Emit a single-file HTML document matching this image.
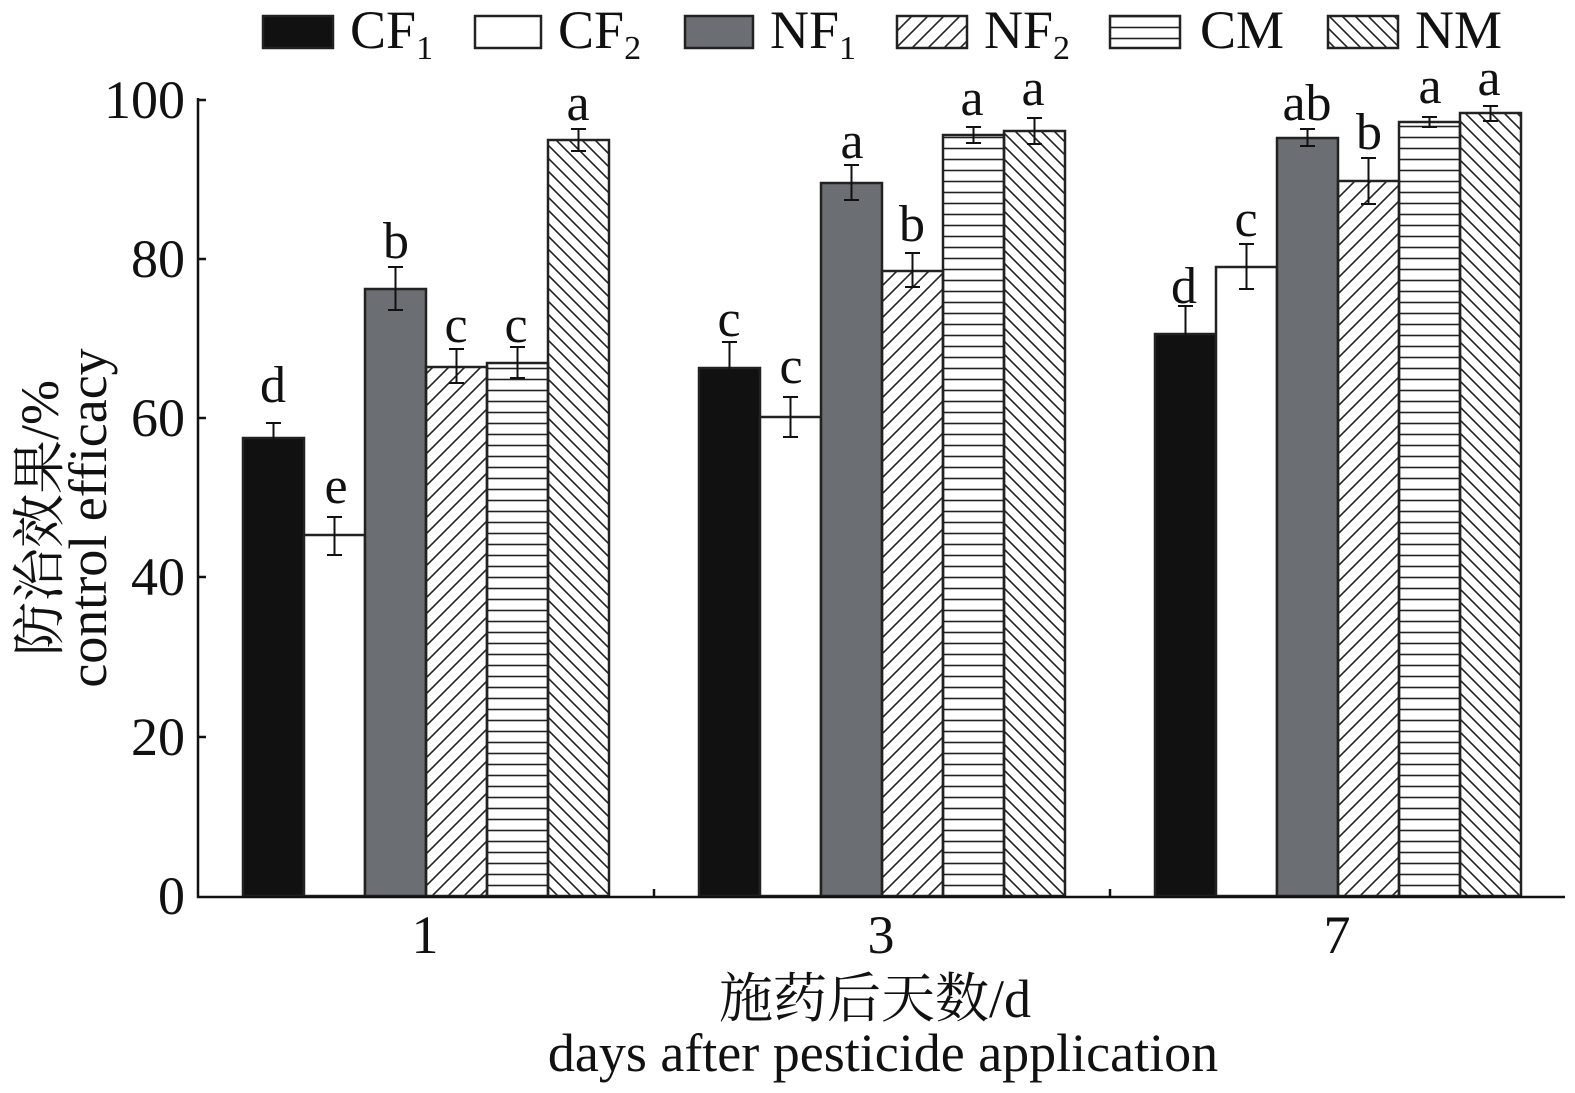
<!DOCTYPE html>
<html><head><meta charset="utf-8"><style>html,body{margin:0;padding:0;background:#fff}svg{display:block}text{font-family:"Liberation Serif","Noto Serif CJK SC",serif;fill:#111}</style></head><body>
<svg width="1575" height="1093" viewBox="0 0 1575 1093" xmlns="http://www.w3.org/2000/svg">
<defs>
<pattern id="fw" width="16" height="16" patternUnits="userSpaceOnUse"><path d="M-4,20 L20,-4 M-4,4 L4,-4 M12,20 L20,12" stroke="#222" stroke-width="1.6"/></pattern>
<pattern id="hz" width="11" height="11" patternUnits="userSpaceOnUse"><path d="M0,5.5 H11" stroke="#222" stroke-width="1.6"/></pattern>
<pattern id="bw" width="13" height="13" patternUnits="userSpaceOnUse"><path d="M-4,-4 L17,17 M-4,9 L4,17 M9,-4 L17,4" stroke="#222" stroke-width="1.6"/></pattern>
</defs>
<g stroke="#222" stroke-width="2.5">
<rect x="263" y="16" width="70" height="32" fill="#111"/>
<rect x="475" y="16" width="66" height="32" fill="#fff"/>
<rect x="685" y="16" width="68" height="32" fill="#6b6e73"/>
<rect x="897" y="16" width="70" height="32" fill="url(#fw)"/>
<rect x="1110" y="16" width="70" height="32" fill="url(#hz)"/>
<rect x="1328" y="16" width="70" height="32" fill="url(#bw)"/>
</g>
<g font-size="54">
<text x="350" y="48">CF<tspan font-size="34" dy="11">1</tspan></text>
<text x="558" y="48">CF<tspan font-size="34" dy="11">2</tspan></text>
<text x="770" y="48">NF<tspan font-size="34" dy="11">1</tspan></text>
<text x="984" y="48">NF<tspan font-size="34" dy="11">2</tspan></text>
<text x="1200" y="48">CM</text>
<text x="1415" y="48">NM</text>
</g>
<g stroke="#222" stroke-width="2.5">
<rect x="243" y="438" width="61" height="458" fill="#111"/>
<rect x="304" y="535" width="61" height="361" fill="#fff"/>
<rect x="365" y="289" width="61" height="607" fill="#6b6e73"/>
<rect x="426" y="367" width="61" height="529" fill="url(#fw)"/>
<rect x="487" y="363" width="61" height="533" fill="url(#hz)"/>
<rect x="548" y="140" width="61" height="756" fill="url(#bw)"/>
<rect x="699" y="368" width="61" height="528" fill="#111"/>
<rect x="760" y="417" width="61" height="479" fill="#fff"/>
<rect x="821" y="183" width="61" height="713" fill="#6b6e73"/>
<rect x="882" y="271" width="61" height="625" fill="url(#fw)"/>
<rect x="943" y="135" width="61" height="761" fill="url(#hz)"/>
<rect x="1004" y="131" width="61" height="765" fill="url(#bw)"/>
<rect x="1155" y="334" width="61" height="562" fill="#111"/>
<rect x="1216" y="267" width="61" height="629" fill="#fff"/>
<rect x="1277" y="138" width="61" height="758" fill="#6b6e73"/>
<rect x="1338" y="181" width="61" height="715" fill="url(#fw)"/>
<rect x="1399" y="122" width="61" height="774" fill="url(#hz)"/>
<rect x="1460" y="113" width="61" height="783" fill="url(#bw)"/>
</g>
<g stroke="#111" stroke-width="2" fill="none">
<path d="M273.5,423V453M266,423h15M266,453h15"/>
<path d="M334.5,517V555M327,517h15M327,555h15"/>
<path d="M395.5,267V310M388,267h15M388,310h15"/>
<path d="M456.5,349V383M449,349h15M449,383h15"/>
<path d="M517.5,347V378M510,347h15M510,378h15"/>
<path d="M578.5,129V151M571,129h15M571,151h15"/>
<path d="M729.5,342V393M722,342h15M722,393h15"/>
<path d="M790.5,397V437M783,397h15M783,437h15"/>
<path d="M851.5,165V200M844,165h15M844,200h15"/>
<path d="M912.5,253V287M905,253h15M905,287h15"/>
<path d="M973.5,127V143M966,127h15M966,143h15"/>
<path d="M1034.5,118V144M1027,118h15M1027,144h15"/>
<path d="M1185.5,306V362M1178,306h15M1178,362h15"/>
<path d="M1246.5,244V289M1239,244h15M1239,289h15"/>
<path d="M1307.5,129V146M1300,129h15M1300,146h15"/>
<path d="M1368.5,158V204M1361,158h15M1361,204h15"/>
<path d="M1429.5,117V127M1422,117h15M1422,127h15"/>
<path d="M1490.5,106V121M1483,106h15M1483,121h15"/>
</g>
<g font-size="52" text-anchor="middle">
<text x="273" y="402">d</text><text x="336" y="503">e</text><text x="396" y="258">b</text><text x="456" y="342">c</text><text x="516" y="342">c</text><text x="578" y="120">a</text>
<text x="729" y="336">c</text><text x="791" y="383">c</text><text x="852" y="158">a</text><text x="912" y="241">b</text><text x="972" y="115">a</text><text x="1033" y="105">a</text>
<text x="1184" y="303">d</text><text x="1246" y="236">c</text><text x="1307" y="120">ab</text><text x="1369" y="149">b</text><text x="1430" y="103">a</text><text x="1489" y="95">a</text>
</g>
<g stroke="#111" stroke-width="2.5" fill="none">
<path d="M198,98V897H1565"/>
<path d="M198,100h8M198,259h8M198,418h8M198,577h8M198,737h8M654,897v-8M1110,897v-8"/>
</g>
<g font-size="54" text-anchor="end">
<text x="185" y="118">100</text><text x="185" y="277">80</text><text x="185" y="436">60</text><text x="185" y="595">40</text><text x="185" y="755">20</text><text x="185" y="914">0</text>
</g>
<g font-size="54" text-anchor="middle">
<text x="425" y="953">1</text><text x="881" y="953">3</text><text x="1337" y="953">7</text>
<text x="875" y="1017">施药后天数/d</text>
<text x="883" y="1071">days after pesticide application</text>
</g>
<g font-size="54" text-anchor="middle">
<text transform="translate(58,518) rotate(-90)">防治效果/%</text>
<text transform="translate(106,518) rotate(-90)">control efficacy</text>
</g>
</svg>
</body></html>
